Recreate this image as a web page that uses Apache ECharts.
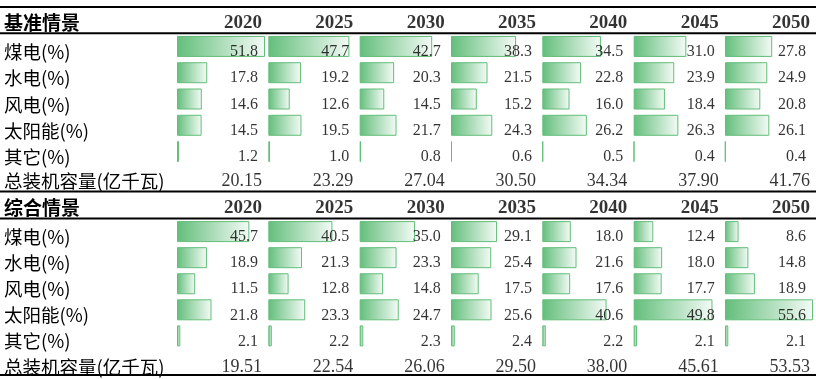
<!DOCTYPE html>
<html><head><meta charset="utf-8">
<script src="https://cdn.jsdelivr.net/npm/echarts@6/dist/echarts.min.js"></script>
<style>html,body{margin:0;padding:0;background:#fff}#c{width:816px;height:379px}</style>
</head><body><div id="c"></div>
<script>
// ---- data ----
const years = ['2020', '2025', '2030', '2035', '2040', '2045', '2050'];
const scenarios = ['基准情景', '综合情景'];
const rowLabels = ['煤电(%)', '水电(%)', '风电(%)', '太阳能(%)', '其它(%)'];
const totalLabel = '总装机容量(亿千瓦)';

const baseCoal  = [51.8, 47.7, 42.7, 38.3, 34.5, 31.0, 27.8];
const baseHydro = [17.8, 19.2, 20.3, 21.5, 22.8, 23.9, 24.9];
const baseWind  = [14.6, 12.6, 14.5, 15.2, 16.0, 18.4, 20.8];
const baseSolar = [14.5, 19.5, 21.7, 24.3, 26.2, 26.3, 26.1];
const baseOther = [1.2, 1.0, 0.8, 0.6, 0.5, 0.4, 0.4];
const baseTotal = [20.15, 23.29, 27.04, 30.50, 34.34, 37.90, 41.76];

const combCoal  = [45.7, 40.5, 35.0, 29.1, 18.0, 12.4, 8.6];
const combHydro = [18.9, 21.3, 23.3, 25.4, 21.6, 18.0, 14.8];
const combWind  = [11.5, 12.8, 14.8, 17.5, 17.6, 17.7, 18.9];
const combSolar = [21.8, 23.3, 24.7, 25.6, 40.6, 49.8, 55.6];
const combOther = [2.1, 2.2, 2.3, 2.4, 2.2, 2.1, 2.1];
const combTotal = [19.51, 22.54, 26.06, 29.50, 38.00, 45.61, 53.53];

const tablesData = [
  { rows: [baseCoal, baseHydro, baseWind, baseSolar, baseOther], total: baseTotal },
  { rows: [combCoal, combHydro, combWind, combSolar, combOther], total: combTotal }
];

// ---- layout ----
const colLeft0 = 177, colStep = 91.33, barSpan = 88;
const tableBox = [
  { top: 7, height: 184, hOff: 3, vOff: 5.5, tOff: 3.5 },
  { top: 192.5, height: 182.5, hOff: 2.5, vOff: 5.5, tOff: 5.5 }
];
const GREEN = '#63BE7B';
const NUM_FONT = '"Liberation Serif","Times New Roman",serif';
const CJK_FONT = '"Noto Sans CJK SC","Noto Sans",sans-serif';

const grid = [], xAxis = [], yAxis = [], series = [];
tablesData.forEach((tb, t) => {
  const bx = tableBox[t];
  const tmax = Math.max(...tb.rows.flat());
  const cats = [scenarios[t], ...rowLabels, totalLabel];
  years.forEach((yr, c) => {
    const g = grid.length;
    grid.push({ left: colLeft0 + c * colStep, width: barSpan, top: bx.top, height: bx.height });
    xAxis.push({ gridIndex: g, type: 'value', min: 0, max: tmax, show: false });
    yAxis.push({
      gridIndex: g, type: 'category', inverse: true, data: cats, show: c === 0,
      axisLine: { show: false }, axisTick: { show: false }, splitLine: { show: false },
      axisLabel: {
        show: c === 0, margin: 173, align: 'left',
        formatter: (v, i) => i === 0 ? '{h|' + v + '}' : (i === 6 ? '{t|' + v + '}' : '{n|' + v + '}'),
        rich: {
          h: { fontSize: 19, fontWeight: 'bold', fontFamily: CJK_FONT, color: '#000', padding: [bx.hOff * 2, 0, 0, 0] },
          n: { fontSize: 18.5, fontFamily: CJK_FONT, color: '#000', padding: [bx.vOff * 2, 0, 0, 0] },
          t: { fontSize: 18.5, fontFamily: CJK_FONT, color: '#000', padding: [bx.tOff * 2, 0, 0, 0] }
        }
      }
    });
    const barData = ['-'].concat(tb.rows.map(r => r[c])).concat(['-']);
    series.push({
      type: 'bar', xAxisIndex: g, yAxisIndex: g, data: barData, barWidth: 21, silent: true,
      itemStyle: {
        color: new echarts.graphic.LinearGradient(0, 0, 1, 0, [{ offset: 0, color: GREEN }, { offset: 1, color: '#F4FBF6' }]),
        borderColor: GREEN, borderWidth: 1
      },
      animation: false
    });
    const labData = [];
    labData.push({ value: [tmax, 0], label: { formatter: yr, fontSize: 19, fontWeight: 'bold', distance: 3, offset: [0, bx.hOff] } });
    tb.rows.forEach((r, i) => {
      labData.push({ value: [tmax, i + 1], label: { formatter: r[c].toFixed(1), fontSize: 16, distance: 7, offset: [0, bx.vOff] } });
    });
    labData.push({ value: [tmax, 6], label: { formatter: tb.total[c].toFixed(2), fontSize: 18, distance: 3, offset: [0, bx.tOff] } });
    series.push({
      type: 'scatter', xAxisIndex: g, yAxisIndex: g, symbolSize: 0, silent: true, z: 5,
      label: { show: true, position: 'left', color: '#000', fontFamily: NUM_FONT },
      data: labData, animation: false
    });
  });
});

// horizontal rules (structure)
const ruleYs = [];
tableBox.forEach((b, t) => {
  const rh = b.height / 7;
  ruleYs.push(t === 0 ? b.top : b.top - 1);
  ruleYs.push(b.top + rh);
});
ruleYs.push(tableBox[1].top + tableBox[1].height);
const graphic = ruleYs.map(y => ({
  type: 'line', shape: { x1: 0, y1: y, x2: 816, y2: y },
  style: { stroke: '#000', lineWidth: 2 }, z: 10
}));

const chart = echarts.init(document.getElementById('c'));
chart.setOption({ animation: false, grid, xAxis, yAxis, series, graphic });
</script>
</body></html>
